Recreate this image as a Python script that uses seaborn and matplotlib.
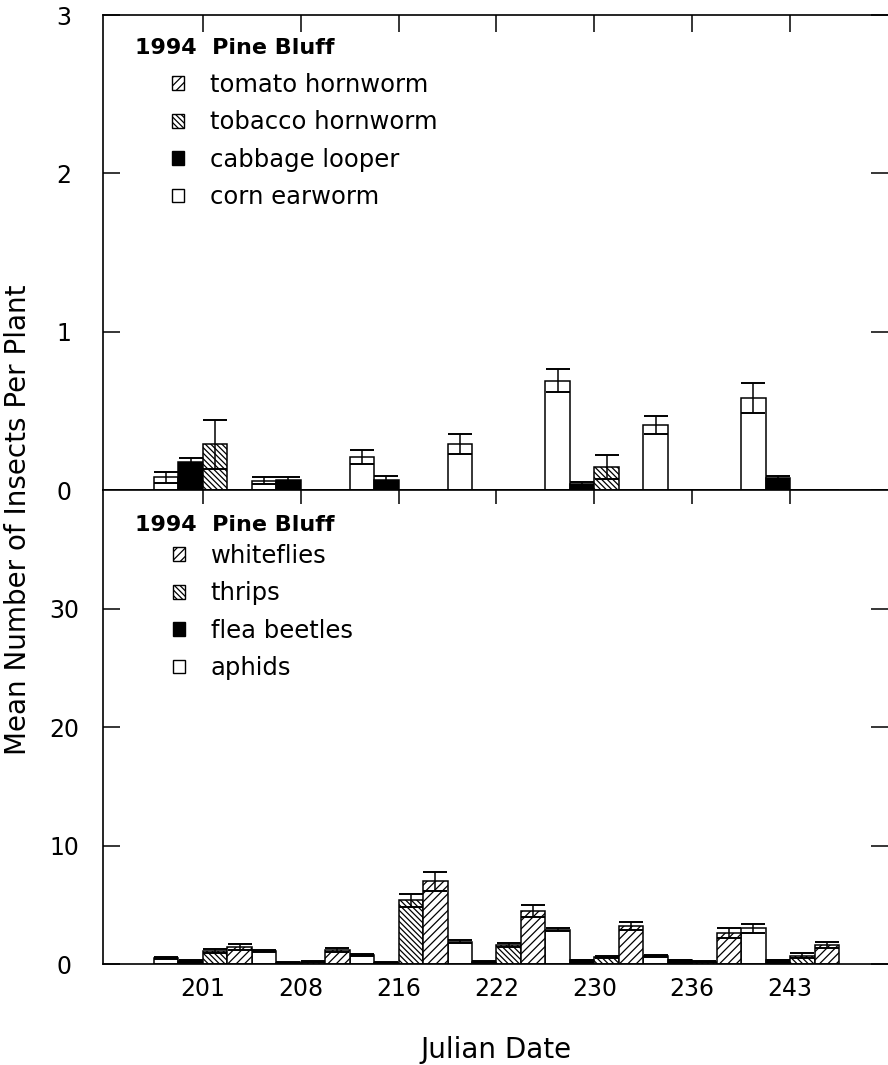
import numpy as np
import pandas as pd
import seaborn as sns
import matplotlib.pyplot as plt
from matplotlib.patches import Patch

# ----------------------------
# data
# ----------------------------
dates = ["201", "208", "216", "222", "230", "236", "243"]

# top panel: caterpillars
top_series = ["corn earworm", "cabbage looper", "tobacco hornworm", "tomato hornworm"]
corn_earworm = [0.08, 0.06, 0.21, 0.29, 0.69, 0.41, 0.58]
corn_earworm_se = [0.035, 0.02, 0.045, 0.063, 0.072, 0.058, 0.095]
cabbage_looper = [0.18, 0.063, 0.065, 0.0, 0.038, 0.0, 0.074]
cabbage_looper_se = [0.025, 0.02, 0.025, 0.0, 0.013, 0.0, 0.012]
tobacco_hornworm = [0.29, 0.0, 0.0, 0.0, 0.147, 0.0, 0.0]
tobacco_hornworm_se = [0.155, 0.0, 0.0, 0.0, 0.077, 0.0, 0.0]
tomato_hornworm = [0.0, 0.0, 0.0, 0.0, 0.0, 0.0, 0.0]
tomato_hornworm_se = [0.0, 0.0, 0.0, 0.0, 0.0, 0.0, 0.0]

# bottom panel: small insects
bottom_series = ["aphids", "flea beetles", "thrips", "whiteflies"]
aphids = [0.5, 1.1, 0.75, 1.9, 2.9, 0.7, 3.0]
aphids_se = [0.1, 0.1, 0.1, 0.1, 0.15, 0.08, 0.4]
flea_beetles = [0.25, 0.1, 0.1, 0.2, 0.3, 0.3, 0.3]
flea_beetles_se = [0.05, 0.03, 0.03, 0.05, 0.05, 0.05, 0.05]
thrips = [1.1, 0.2, 5.4, 1.6, 0.6, 0.2, 0.7]
thrips_se = [0.2, 0.05, 0.55, 0.15, 0.1, 0.05, 0.2]
whiteflies = [1.4, 1.2, 7.0, 4.5, 3.2, 2.6, 1.6]
whiteflies_se = [0.25, 0.15, 0.8, 0.5, 0.35, 0.4, 0.25]

top_vals = [corn_earworm, cabbage_looper, tobacco_hornworm, tomato_hornworm]
top_errs = [corn_earworm_se, cabbage_looper_se, tobacco_hornworm_se, tomato_hornworm_se]
bot_vals = [aphids, flea_beetles, thrips, whiteflies]
bot_errs = [aphids_se, flea_beetles_se, thrips_se, whiteflies_se]

# styles per series position (white, black, dense \\\, sparse ///)
faces = ["white", "black", "white", "white"]
hatches = ["", "", "\\\\\\\\\\\\", "////"]


def long_df(series, vals):
    rows = []
    for s, v in zip(series, vals):
        for d, x in zip(dates, v):
            rows.append({"date": d, "species": s, "value": x})
    return pd.DataFrame(rows)


sns.set_style("ticks")
plt.rcParams["font.family"] = ["DejaVu Sans"]
plt.rcParams["hatch.color"] = "black"
plt.rcParams["hatch.linewidth"] = 0.9
plt.rcParams["axes.linewidth"] = 1.2
for key in ["text.color", "axes.labelcolor", "axes.edgecolor", "xtick.color", "ytick.color"]:
    plt.rcParams[key] = "black"

fig = plt.figure(figsize=(8.88, 10.65), dpi=100)
ax1 = fig.add_axes([0.116, 0.5399, 0.884, 0.4460])
ax2 = fig.add_axes([0.116, 0.0948, 0.884, 0.4451])


def draw_panel(ax, series, vals, errs):
    df = long_df(series, vals)
    sns.barplot(data=df, x="date", y="value", hue="species", order=dates,
                hue_order=series, palette=dict(zip(series, faces)),
                saturation=1, edgecolor="black", linewidth=1.1, width=1.0,
                errorbar=None, legend=False, ax=ax)
    for cont, h, v, e in zip(ax.containers, hatches, vals, errs):
        xs, ys, es = [], [], []
        for p, val, err in zip(cont.patches, v, e):
            p.set_hatch(h)
            if err > 0:
                xs.append(p.get_x() + p.get_width() / 2)
                ys.append(val)
                es.append(err)
        if xs:
            ax.errorbar(xs, ys, yerr=es, fmt="none", ecolor="black",
                        elinewidth=1.1, capsize=8.5, capthick=1.4, zorder=3)
    ax.set_xlim(-1.02, 7.0)
    ax.set_xlabel("")
    ax.set_ylabel("")
    ax.spines["right"].set_visible(False)
    ax.tick_params(axis="y", left=True, right=True, direction="in",
                   length=12, width=1.1, labelsize=17, pad=28)


def add_key(ax, title, series, ty, ly, lx):
    ax.text(0.041, ty, title, transform=ax.transAxes, fontsize=16,
            fontweight="bold", ha="left", va="center")
    handles = [Patch(facecolor=f, edgecolor="black", hatch=h, linewidth=1.0, label=s)
               for s, f, h in zip(series, faces, hatches)][::-1]
    ax.legend(handles=handles, loc="upper left", bbox_to_anchor=(lx, ly),
              frameon=False, fontsize=17.5, handlelength=0.5, handleheight=0.5,
              handletextpad=1.05, labelspacing=0.55, borderpad=0, borderaxespad=0)


# ----------------------------
# top panel
# ----------------------------
draw_panel(ax1, top_series, top_vals, top_errs)
ax1.set_ylim(0, 3)
ax1.set_yticks([0, 1, 2, 3])
ax1.tick_params(axis="x", top=True, bottom=False, labelbottom=False,
                direction="in", length=12, width=1.1)
add_key(ax1, "1994  Pine Bluff", top_series, 0.9305, 0.878, 0.0879)

# ----------------------------
# bottom panel
# ----------------------------
draw_panel(ax2, bottom_series, bot_vals, bot_errs)
ax2.set_ylim(0, 40)
ax2.set_yticks([0, 10, 20, 30])
ax2.tick_params(axis="x", top=True, bottom=False, labelbottom=True,
                direction="in", length=10, width=1.1, labelsize=17, pad=9)
add_key(ax2, "1994  Pine Bluff", bottom_series, 0.926, 0.886, 0.0892)

for ax in (ax1, ax2):
    for lab in ax.get_yticklabels():
        lab.set_horizontalalignment("center")

fig.text(18 / 888, 1 - 520 / 1065, "Mean Number of Insects Per Plant",
         rotation=90, ha="center", va="center", fontsize=20)
fig.text(496 / 888, 1 - 1050 / 1065, "Julian Date", ha="center", va="center",
         fontsize=20)

fig.savefig("out.png", dpi=100)
